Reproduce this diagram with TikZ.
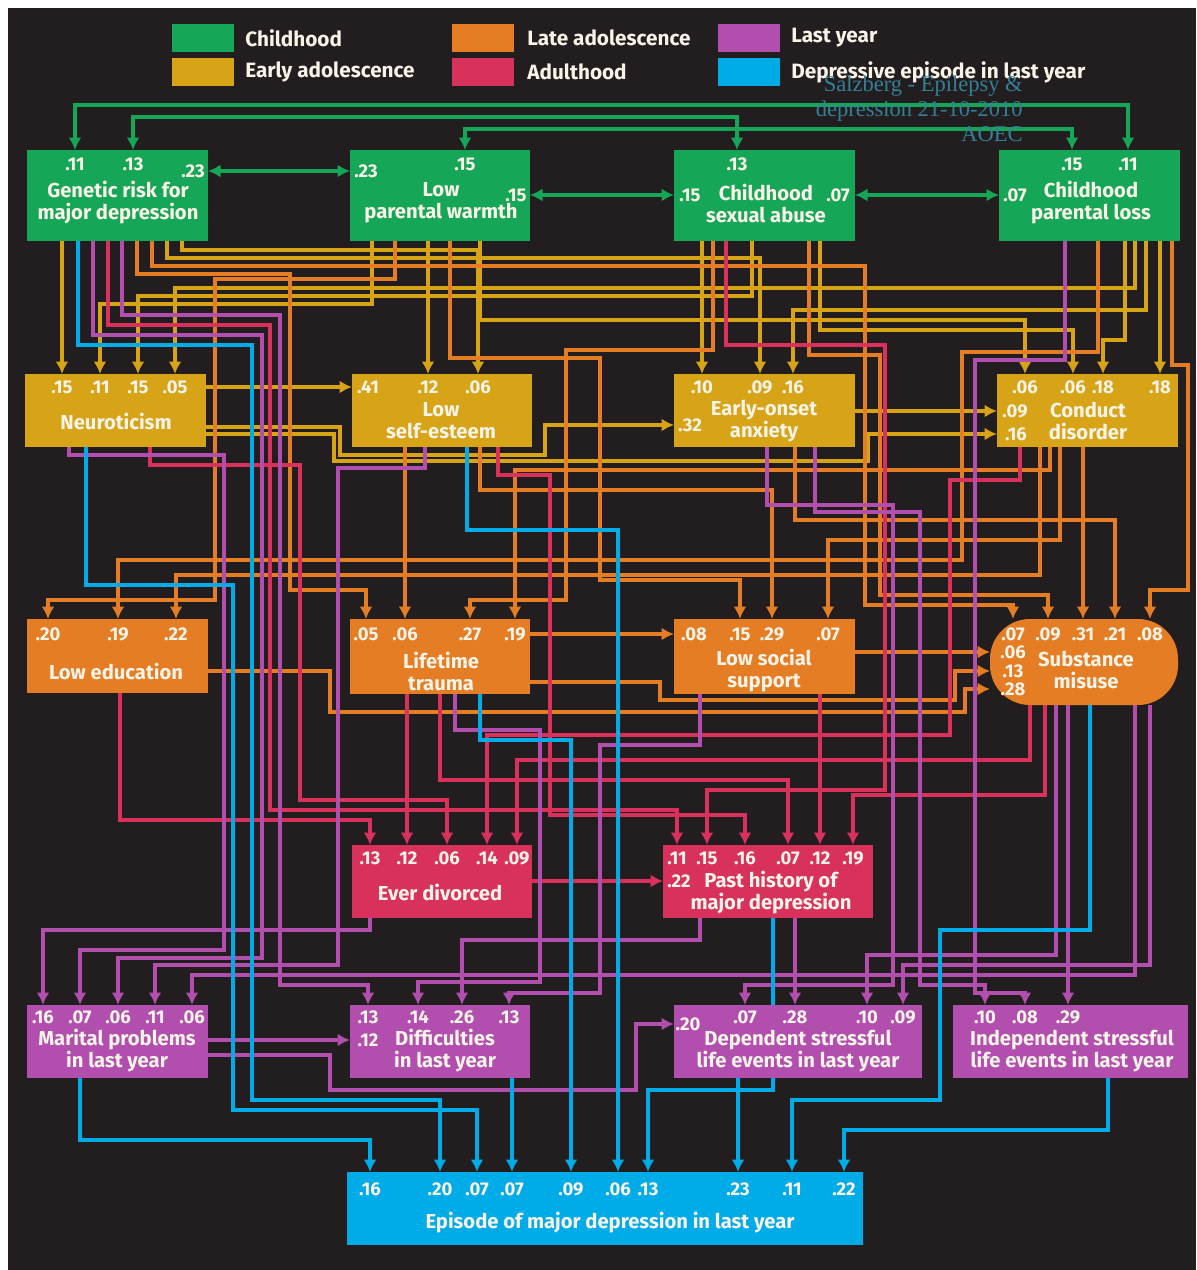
\documentclass[tikz,border=0pt]{standalone}
\usepackage{fontspec}
\setmainfont{Fira Sans}
\newfontfamily\markfont{Liberation Serif}
\usetikzlibrary{calc,arrows.meta}
\pgfdeclarelayer{bg}
\pgfdeclarelayer{wires}
\pgfdeclarelayer{boxes}
\pgfsetlayers{bg,wires,boxes,main}

\definecolor{bgdark}{RGB}{34,30,31}
\definecolor{cgreen}{RGB}{22,166,88}
\definecolor{cyellow}{RGB}{215,164,24}
\definecolor{corange}{RGB}{228,125,36}
\definecolor{ccrimson}{RGB}{216,50,92}
\definecolor{cpurple}{RGB}{178,78,174}
\definecolor{ccyan}{RGB}{0,172,232}
\definecolor{ctext}{RGB}{250,244,232}
\definecolor{cmark}{RGB}{52,128,150}

\tikzset{
  wire/.style={draw=#1, line width=0.62mm, ->},
  wg/.style={wire=cgreen}, wy/.style={wire=cyellow}, wo/.style={wire=corange},
  wc/.style={wire=ccrimson}, wp/.style={wire=cpurple}, wb/.style={wire=ccyan},
  box/.style n args={3}{fill=#1, anchor=north west, minimum width=#2*0.2mm,
    minimum height=#3*0.2mm, inner sep=0pt, outer sep=0pt},
  lbl/.style={text=ctext, font=\bfseries\fontsize{11.5}{12.5}\selectfont, align=center, inner sep=0pt},
  cf/.style={text=ctext, font=\bfseries\fontsize{10.5}{12}\selectfont, inner sep=0pt},
  key/.style={fill=#1, anchor=north west, minimum width=62*0.2mm, minimum height=28*0.2mm, inner sep=0pt},
  keytxt/.style={text=ctext, anchor=west, font=\bfseries\fontsize{11.8}{14}\selectfont, inner sep=0pt},
}

\begin{document}
\begin{tikzpicture}[x=0.2mm, y=-0.2mm, >={Latex[length=2.5mm,width=2.6mm]}]
\useasboundingbox (0,0) rectangle (1196,1270);
\begin{pgfonlayer}{bg}
\fill[white] (0,0) rectangle (1196,1270);
\fill[bgdark] (8,8) rectangle (1196,1270);
\end{pgfonlayer}
% legend
\node[key=cgreen] (kg) at (172,24) {};
\node[keytxt] (kgt) at (245,38) {Childhood};
\node[key=cyellow] (ky) at (172,58) {};
\node[keytxt] (kyt) at (245,72) {Early adolescence};
\node[key=corange] (ko) at (452,24) {};
\node[keytxt] (kot) at (527,38) {Late adolescence};
\node[key=ccrimson] (kc) at (452,58) {};
\node[keytxt] (kct) at (527,72) {Adulthood};
\node[key=cpurple] (kp) at (718,24) {};
\node[keytxt] (kpt) at (791,38) {Last year};
\node[key=ccyan] (kb) at (718,58) {};
\node[keytxt] (kbt) at (791,72) {Depressive episode in last year};
% boxes
\begin{pgfonlayer}{boxes}
% childhood
\node[box={cgreen}{181}{91}] (gen) at (27,150) {};
\node[box={cgreen}{180}{91}] (lpw) at (350,150) {};
\node[box={cgreen}{181}{91}] (csa) at (674,150) {};
\node[box={cgreen}{181}{91}] (cpl) at (999,150) {};
% early adolescence
\node[box={cyellow}{181}{73}] (neu) at (25,374) {};
\node[box={cyellow}{180}{73}] (lse) at (352,374) {};
\node[box={cyellow}{181}{73}] (eoa) at (674,374) {};
\node[box={cyellow}{181}{73}] (cd) at (997,374) {};
% late adolescence
\node[box={corange}{181}{74}] (ledu) at (27,619) {};
\node[box={corange}{180}{75}] (ltr) at (350,619) {};
\node[box={corange}{181}{75}] (lss) at (674,619) {};
\node[box={corange}{188}{86}, rounded corners=8mm] (sm) at (990,619) {};
% adulthood
\node[box={ccrimson}{180}{73}] (ed) at (352,845) {};
\node[box={ccrimson}{210}{73}] (phmd) at (663,845) {};
% last year
\node[box={cpurple}{181}{73}] (mp) at (27,1005) {};
\node[box={cpurple}{180}{73}] (dly) at (350,1005) {};
\node[box={cpurple}{248}{73}] (dsle) at (674,1005) {};
\node[box={cpurple}{235}{73}] (isle) at (953,1005) {};
% episode
\node[box={ccyan}{516}{73}] (ep) at (347,1172) {};
\end{pgfonlayer}
% box texts
\node[lbl] (gen-t) at (118,203) {Genetic risk for\\major depression};
\node[lbl] (lpw-t) at (441,203) {Low\\parental warmth};
\node[lbl] (csa-t) at (766,203) {Childhood\\sexual abuse};
\node[lbl] (cpl-t) at (1091,203) {Childhood\\parental loss};
\node[lbl] (neu-t) at (116,421) {Neuroticism};
\node[lbl] (lse-t) at (441,421) {Low\\self-esteem};
\node[lbl] (eoa-t) at (764,421) {Early-onset\\anxiety};
\node[lbl] (cd-t) at (1088,421) {Conduct\\disorder};
\node[lbl] (ledu-t) at (116,671) {Low education};
\node[lbl] (ltr-t) at (441,671) {Lifetime\\trauma};
\node[lbl] (lss-t) at (764,671) {Low social\\support};
\node[lbl] (sm-t) at (1086,670) {Substance\\misuse};
\node[lbl] (ed-t) at (440,892) {Ever divorced};
\node[lbl] (phmd-t) at (771,893) {Past history of\\major depression};
\node[lbl] (mp-t) at (117,1051) {Marital problems\\in last year};
\node[lbl] (dly-t) at (445,1051) {Difficulties\\in last year};
\node[lbl] (dsle-t) at (798,1051) {Dependent stressful\\life events in last year};
\node[lbl] (isle-t) at (1072,1051) {Independent stressful\\life events in last year};
\node[lbl] (ep-t) at (610,1223) {Episode of major depression in last year};
% coefficients
\path (75,164) node[cf] (gen-a) {.11} (133,164) node[cf] (gen-b) {.13} (193,171) node[cf] (gen-c) {.23};
\path (366,171) node[cf] (lpw-a) {.23} (465,164) node[cf] (lpw-b) {.15} (516,195) node[cf] (lpw-c) {.15};
\path (737,164) node[cf] (csa-a) {.13} (690,195) node[cf] (csa-b) {.15} (838,195) node[cf] (csa-c) {.07};
\path (1015,195) node[cf] (cpl-a) {.07} (1072,164) node[cf] (cpl-b) {.15} (1128,164) node[cf] (cpl-c) {.11};
\path (62,387) node[cf] (neu-a) {.15} (100,387) node[cf] (neu-b) {.11} (138,387) node[cf] (neu-c) {.15} (175,387) node[cf] (neu-d) {.05};
\path (368,387) node[cf] (lse-a) {.41} (428,387) node[cf] (lse-b) {.12} (478,387) node[cf] (lse-c) {.06};
\path (702,387) node[cf] (eoa-a) {.10} (760,387) node[cf] (eoa-b) {.09} (793,387) node[cf] (eoa-c) {.16} (690,425) node[cf] (eoa-d) {.32};
\path (1025,387) node[cf] (cd-a) {.06} (1073,387) node[cf] (cd-b) {.06} (1103,387) node[cf] (cd-c) {.18} (1160,387) node[cf] (cd-d) {.18}
      (1015,411) node[cf] (cd-e) {.09} (1016,434) node[cf] (cd-f) {.16};
\path (48,634) node[cf] (ledu-a) {.20} (118,634) node[cf] (ledu-b) {.19} (176,634) node[cf] (ledu-c) {.22};
\path (366,634) node[cf] (ltr-a) {.05} (405,634) node[cf] (ltr-b) {.06} (470,634) node[cf] (ltr-c) {.27} (515,634) node[cf] (ltr-d) {.19};
\path (694,634) node[cf] (lss-a) {.08} (740,634) node[cf] (lss-b) {.15} (772,634) node[cf] (lss-c) {.29} (828,634) node[cf] (lss-d) {.07};
\path (1013,634) node[cf] (sm-a) {.07} (1048,634) node[cf] (sm-b) {.09} (1083,634) node[cf] (sm-c) {.31} (1115,634) node[cf] (sm-d) {.21} (1150,634) node[cf] (sm-e) {.08}
      (1013,652) node[cf] (sm-f) {.06} (1013,671) node[cf] (sm-g) {.13} (1013,689) node[cf] (sm-h) {.28};
\path (370,858) node[cf] (ed-a) {.13} (407,858) node[cf] (ed-b) {.12} (447,858) node[cf] (ed-c) {.06} (487,858) node[cf] (ed-d) {.14} (517,858) node[cf] (ed-e) {.09};
\path (677,858) node[cf] (phmd-a) {.11} (707,858) node[cf] (phmd-b) {.15} (745,858) node[cf] (phmd-c) {.16} (788,858) node[cf] (phmd-d) {.07}
      (820,858) node[cf] (phmd-e) {.12} (853,858) node[cf] (phmd-f) {.19} (679,881) node[cf] (phmd-g) {.22};
\path (43,1017) node[cf] (mp-a) {.16} (80,1017) node[cf] (mp-b) {.07} (118,1017) node[cf] (mp-c) {.06} (155,1017) node[cf] (mp-d) {.11} (192,1017) node[cf] (mp-e) {.06};
\path (368,1017) node[cf] (dly-a) {.13} (418,1017) node[cf] (dly-b) {.14} (462,1017) node[cf] (dly-c) {.26} (509,1017) node[cf] (dly-d) {.13} (368,1040) node[cf] (dly-e) {.12};
\path (688,1024) node[cf] (dsle-a) {.20} (745,1017) node[cf] (dsle-b) {.07} (795,1017) node[cf] (dsle-c) {.28} (867,1017) node[cf] (dsle-d) {.10} (903,1017) node[cf] (dsle-e) {.09};
\path (985,1017) node[cf] (isle-a) {.10} (1025,1017) node[cf] (isle-b) {.08} (1068,1017) node[cf] (isle-c) {.29};
\path (370,1189) node[cf] (ep-a) {.16} (440,1189) node[cf] (ep-b) {.20} (477,1189) node[cf] (ep-c) {.07} (512,1189) node[cf] (ep-d) {.07} (571,1189) node[cf] (ep-e) {.09}
      (618,1189) node[cf] (ep-f) {.06} (648,1189) node[cf] (ep-g) {.13} (738,1189) node[cf] (ep-h) {.23} (792,1189) node[cf] (ep-i) {.11} (844,1189) node[cf] (ep-j) {.22};
\begin{pgfonlayer}{wires}
% childhood correlations
\draw[wg,<->] (gen-a |- gen.north) |- (1128,105) -- (cpl-c |- cpl.north);
\draw[wg,<->] (gen-b |- gen.north) |- (737,117) -- (csa-a |- csa.north);
\draw[wg,<->] (lpw-b |- lpw.north) |- (1072,129) -- (cpl-b |- cpl.north);
\draw[wg,<->] (gen.east |- gen-c) -- (lpw.west |- gen-c);
\draw[wg,<->] (lpw.east |- lpw-c) -- (csa.west |- lpw-c);
\draw[wg,<->] (csa.east |- csa-c) -- (cpl.west |- csa-c);
% into early adolescence
\draw[wy] (gen.south -| neu-a) -- (neu-a |- neu.north);
\draw[wy] ($(lpw.south west)+(22,0)$) |- (100,304) -- (neu-b |- neu.north);
\draw[wy] ($(csa.south west)+(78,0)$) |- (138,296) -- (neu-c |- neu.north);
\draw[wy] ($(cpl.south west)+(136,0)$) |- (175,288) -- (neu-d |- neu.north);
\draw[wy] (neu.east |- lse-a) -- (lse.west |- lse-a);
\draw[wy] (lpw.south -| lse-b) -- (lse-b |- lse.north);
\draw[wy] ($(gen.south west)+(155,0)$) |- (478,250) -- (lse-c |- lse.north);
\draw[wy] (csa.south -| eoa-a) -- (eoa-a |- eoa.north);
\draw[wy] ($(gen.south west)+(140,0)$) |- (760,258) -- (eoa-b |- eoa.north);
\draw[wy] ($(cpl.south west)+(147,0)$) |- (793,310) -- (eoa-c |- eoa.north);
\draw[wy] ($(neu.north east)+(0,53)$) -| (340,455) -| (545,425) -- (eoa.west |- eoa-d);
\draw[wy] ($(lpw.south west)+(130,0)$) |- (1025,320) -- (cd-a |- cd.north);
\draw[wy] ($(csa.south west)+(146,0)$) |- (1073,330) -- (cd-b |- cd.north);
\draw[wy] ($(cpl.south west)+(126,0)$) |- (1103,340) -- (cd-c |- cd.north);
\draw[wy] (cpl.south -| cd-d) -- (cd-d |- cd.north);
\draw[wy] (eoa.east |- cd-e) -- (cd.west |- cd-e);
\draw[wy] ($(neu.north east)+(0,60)$) -| (334,461) -| (868,434) -- (cd.west |- cd-f);
% into late adolescence
\draw[wo] ($(lpw.south west)+(45,0)$) |- (215,279) -- (215,600) -| (ledu-a |- ledu.north);
\draw[wo] ($(cpl.south west)+(99,0)$) |- (962,352) -- (962,560) -| (ledu-b |- ledu.north);
\draw[wo] ($(cd.south west)+(43,0)$) |- (176,575) -- (ledu-c |- ledu.north);
\draw[wo] ($(gen.south west)+(110,0)$) |- (290,274) -- (290,590) -| (ltr-a |- ltr.north);
\draw[wo] (lse.south -| ltr-b) -- (ltr-b |- ltr.north);
\draw[wo] ($(csa.south west)+(39,0)$) |- (566,350) -- (566,600) -| (ltr-c |- ltr.north);
\draw[wo] ($(cd.south west)+(53,0)$) |- (515,470) -- (ltr-d |- ltr.north);
\draw[wo] (ltr.east |- lss-a) -- (lss.west |- lss-a);
\draw[wo] ($(lpw.south west)+(100,0)$) |- (600,358) -- (600,580) -| (lss-b |- lss.north);
\draw[wo] ($(lse.south west)+(128,0)$) |- (772,490) -- (lss-c |- lss.north);
\draw[wo] ($(cd.south west)+(63,0)$) |- (828,540) -- (lss-d |- lss.north);
\draw[wo] ($(gen.south west)+(125,0)$) |- (865,266) -- (865,605) -| (sm-a |- sm.north);
\draw[wo] ($(csa.south west)+(135,0)$) |- (880,355) -- (880,595) -| (sm-b |- sm.north);
\draw[wo] (cd.south -| sm-c) -- (sm-c |- sm.north);
\draw[wo] ($(eoa.south west)+(121,0)$) |- (1115,520) -- (sm-d |- sm.north);
\draw[wo] ($(cpl.south west)+(173,0)$) |- (1188,365) -- (1188,590) -| (sm-e |- sm.north);
\draw[wo] (lss.east |- sm-f) -- (sm.west |- sm-f);
\draw[wo] ($(ltr.north east)+(0,63)$) -| (660,700) -| (955,671) -- (sm.west |- sm-g);
\draw[wo] ($(ledu.north east)+(0,52)$) -| (330,712) -| (965,689) -- (sm.west |- sm-h);
% into adulthood
\draw[wc] ($(ledu.south west)+(93,0)$) |- (370,820) -- (ed-a |- ed.north);
\draw[wc] (ltr.south -| ed-b) -- (ed-b |- ed.north);
\draw[wc] ($(neu.south west)+(125,0)$) |- (300,465) -- (300,800) -| (ed-c |- ed.north);
\draw[wc] ($(cd.south west)+(23,0)$) |- (950,480) -- (950,735) -| (ed-d |- ed.north);
\draw[wc] ($(sm.south west)+(40,0)$) |- (517,760) -- (ed-e |- ed.north);
\draw[wc] (ed.east |- phmd-g) -- (phmd.west |- phmd-g);
\draw[wc] ($(gen.south west)+(81,0)$) |- (270,325) -- (270,810) -| (phmd-a |- phmd.north);
\draw[wc] ($(csa.south west)+(52,0)$) |- (885,345) -- (885,790) -| (phmd-b |- phmd.north);
\draw[wc] ($(lse.south west)+(146,0)$) |- (550,475) -- (550,815) -| (phmd-c |- phmd.north);
\draw[wc] ($(ltr.south west)+(90,0)$) |- (788,780) -- (phmd-d |- phmd.north);
\draw[wc] (lss.south -| phmd-e) -- (phmd-e |- phmd.north);
\draw[wc] ($(sm.south west)+(55,0)$) |- (853,795) -- (phmd-f |- phmd.north);
% into last year
\draw[wp] ($(ed.south west)+(18,0)$) |- (43,930) -- (mp-a |- mp.north);
\draw[wp] ($(neu.south west)+(44,0)$) |- (224,455) -- (224,950) -| (mp-b |- mp.north);
\draw[wp] ($(gen.south west)+(66,0)$) |- (262,335) -- (262,958) -| (mp-c |- mp.north);
\draw[wp] ($(lse.south west)+(73,0)$) |- (338,468) -- (338,965) -| (mp-d |- mp.north);
\draw[wp] ($(sm.south west)+(145,0)$) |- (192,975) -- (mp-e |- mp.north);
\draw[wp] ($(gen.south west)+(95,0)$) |- (280,315) -- (280,985) -| (dly-a |- dly.north);
\draw[wp] ($(ltr.south west)+(105,0)$) |- (540,730) -- (540,982) -| (dly-b |- dly.north);
\draw[wp] ($(phmd.south west)+(37,0)$) |- (462,940) -- (dly-c |- dly.north);
\draw[wp] ($(lss.south west)+(26,0)$) |- (600,745) -- (600,993) -| (dly-d |- dly.north);
\draw[wp] (mp.east |- dly-e) -- (dly.west |- dly-e);
\draw[wp] ($(mp.north east)+(0,50)$) -| (330,1090) -| (636,1024) -- (dsle.west |- dsle-a);
\draw[wp] ($(eoa.south west)+(93,0)$) |- (893,505) -- (893,985) -| (dsle-b |- dsle.north);
\draw[wp] (phmd.south -| dsle-c) -- (dsle-c |- dsle.north);
\draw[wp] ($(sm.south west)+(66,0)$) |- (867,955) -- (dsle-d |- dsle.north);
\draw[wp] ($(sm.south west)+(160,0)$) |- (903,965) -- (dsle-e |- dsle.north);
\draw[wp] ($(eoa.south west)+(141,0)$) |- (920,512) -- (920,985) -| (isle-a |- isle.north);
\draw[wp] ($(cpl.south west)+(66,0)$) |- (975,360) -- (975,993) -| (isle-b |- isle.north);
\draw[wp] (sm.south -| isle-c) -- (isle-c |- isle.north);
% into episode
\draw[wb] ($(mp.south west)+(53,0)$) |- (370,1140) -- (ep-a |- ep.north);
\draw[wb] ($(gen.south west)+(51,0)$) |- (252,345) -- (252,1100) -| (ep-b |- ep.north);
\draw[wb] ($(neu.south west)+(61,0)$) |- (233,585) -- (233,1110) -| (ep-c |- ep.north);
\draw[wb] (dly.south -| ep-d) -- (ep-d |- ep.north);
\draw[wb] ($(ltr.south west)+(130,0)$) |- (571,740) -- (ep-e |- ep.north);
\draw[wb] ($(lse.south west)+(115,0)$) |- (618,530) -- (ep-f |- ep.north);
\draw[wb] ($(phmd.south west)+(110,0)$) |- (648,1090) -- (ep-g |- ep.north);
\draw[wb] (dsle.south -| ep-h) -- (ep-h |- ep.north);
\draw[wb] ($(sm.south west)+(100,0)$) |- (940,930) -- (940,1100) -| (ep-i |- ep.north);
\draw[wb] ($(isle.south west)+(155,0)$) |- (844,1130) -- (ep-j |- ep.north);
\end{pgfonlayer}
% overlay note
\node[anchor=east, align=right, inner sep=0pt, text=cmark, font=\markfont\fontsize{12.8}{14.2}\selectfont] (note) at (1023,109)
  {Salzberg - Epilepsy \&\\depression 21-10-2010\\AOEC};
\end{tikzpicture}
\end{document}
